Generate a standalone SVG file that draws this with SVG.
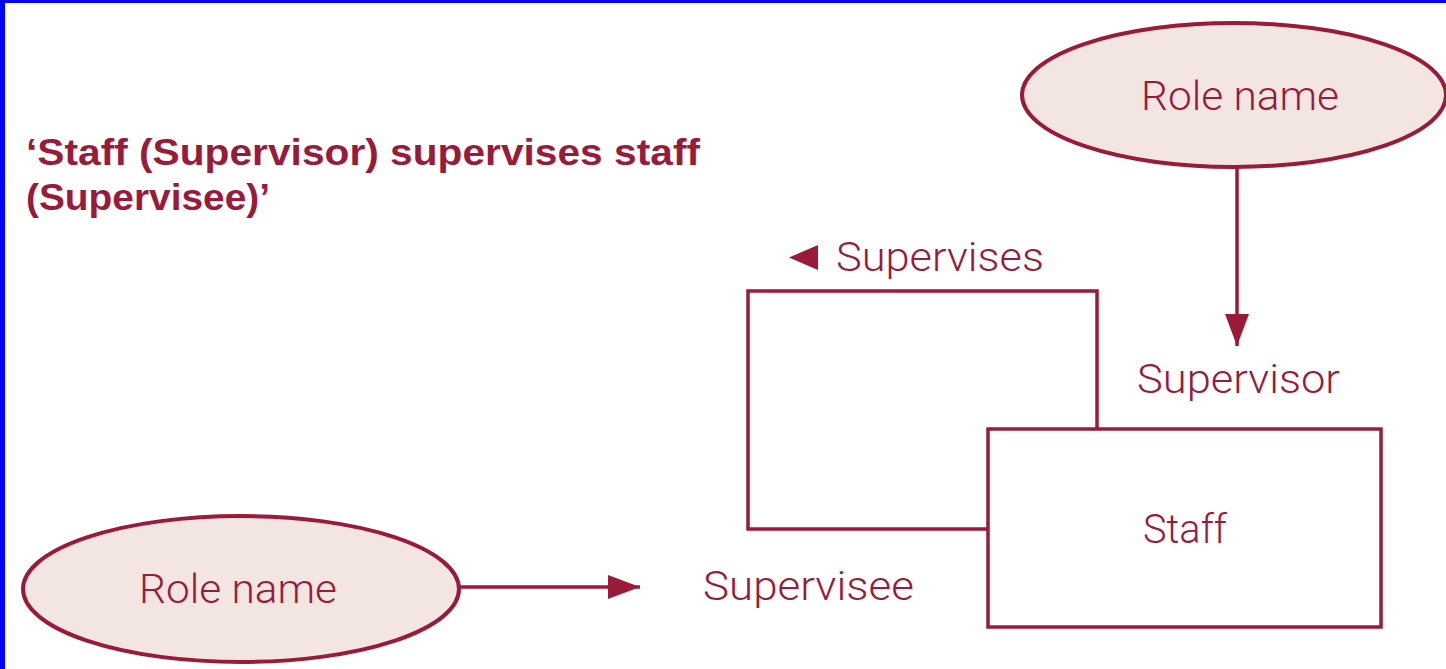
<svg xmlns="http://www.w3.org/2000/svg" width="1446" height="669" viewBox="0 0 1446 669">
  <style>
    .ink { fill: #9A1B39; font-family: "Liberation Sans", Arial, sans-serif; }
    .label { font-family: Roboto, "Liberation Sans", Arial, sans-serif; font-size: 41px; font-weight: 300; }
    .title { font-size: 37px; font-weight: bold; }
    .role { fill: #F3E5E1; stroke: #9A1B39; stroke-width: 4; }
    .box { fill: #FFFFFF; stroke: #9A1B39; stroke-width: 3.5; }
    .link { stroke: #9A1B39; stroke-width: 3.5; fill: none; }
  </style>
  <defs>
    <marker id="head" viewBox="0 0 32 24" refX="32" refY="12" markerWidth="32" markerHeight="24" markerUnits="userSpaceOnUse" orient="auto">
      <path d="M0,0 L32,12 L0,24 Z" fill="#9A1B39"/>
    </marker>
  </defs>

  <rect width="1446" height="669" fill="#FFFFFF"/>
  <!-- frame edges -->
  <rect x="0" y="0" width="1446" height="3" fill="#0000FF"/>
  <rect x="0" y="0" width="5" height="669" fill="#0000FF"/>

  <!-- title -->
  <g id="caption">
    <text class="ink title" x="26" y="165" textLength="674" lengthAdjust="spacingAndGlyphs">‘Staff (Supervisor) supervises staff</text>
    <text class="ink title" x="26" y="210" textLength="244" lengthAdjust="spacingAndGlyphs">(Supervisee)’</text>
  </g>

  <!-- connectors -->
  <g id="connectors">
    <line class="link" x1="1237" y1="167" x2="1237" y2="346" marker-end="url(#head)"/>
    <line class="link" x1="460" y1="587" x2="640" y2="587" marker-end="url(#head)"/>
  </g>

  <!-- recursive relationship loop -->
  <g id="relationship">
    <rect class="box" x="748" y="291" width="349" height="238"/>
    <path d="M789,257.5 L818,245 L818,270 Z" fill="#9A1B39"/>
    <text class="ink label" x="836" y="271" textLength="208" lengthAdjust="spacingAndGlyphs">Supervises</text>
  </g>

  <!-- entity -->
  <g id="staff">
    <rect class="box" x="988" y="429" width="393" height="198"/>
    <text class="ink label" x="1143" y="543" textLength="84" lengthAdjust="spacingAndGlyphs">Staff</text>
  </g>

  <!-- role labels -->
  <g id="supervisor-label">
    <text class="ink label" x="1137" y="393" textLength="203" lengthAdjust="spacingAndGlyphs">Supervisor</text>
  </g>
  <g id="supervisee-label">
    <text class="ink label" x="703" y="600" textLength="211" lengthAdjust="spacingAndGlyphs">Supervisee</text>
  </g>

  <!-- role name ellipses -->
  <g id="role-top">
    <ellipse class="role" cx="1234" cy="95" rx="212" ry="72"/>
    <text class="ink label" x="1141" y="110" textLength="198" lengthAdjust="spacingAndGlyphs">Role name</text>
  </g>
  <g id="role-bottom">
    <ellipse class="role" cx="241" cy="589" rx="218" ry="73"/>
    <text class="ink label" x="139" y="603" textLength="198" lengthAdjust="spacingAndGlyphs">Role name</text>
  </g>
</svg>
